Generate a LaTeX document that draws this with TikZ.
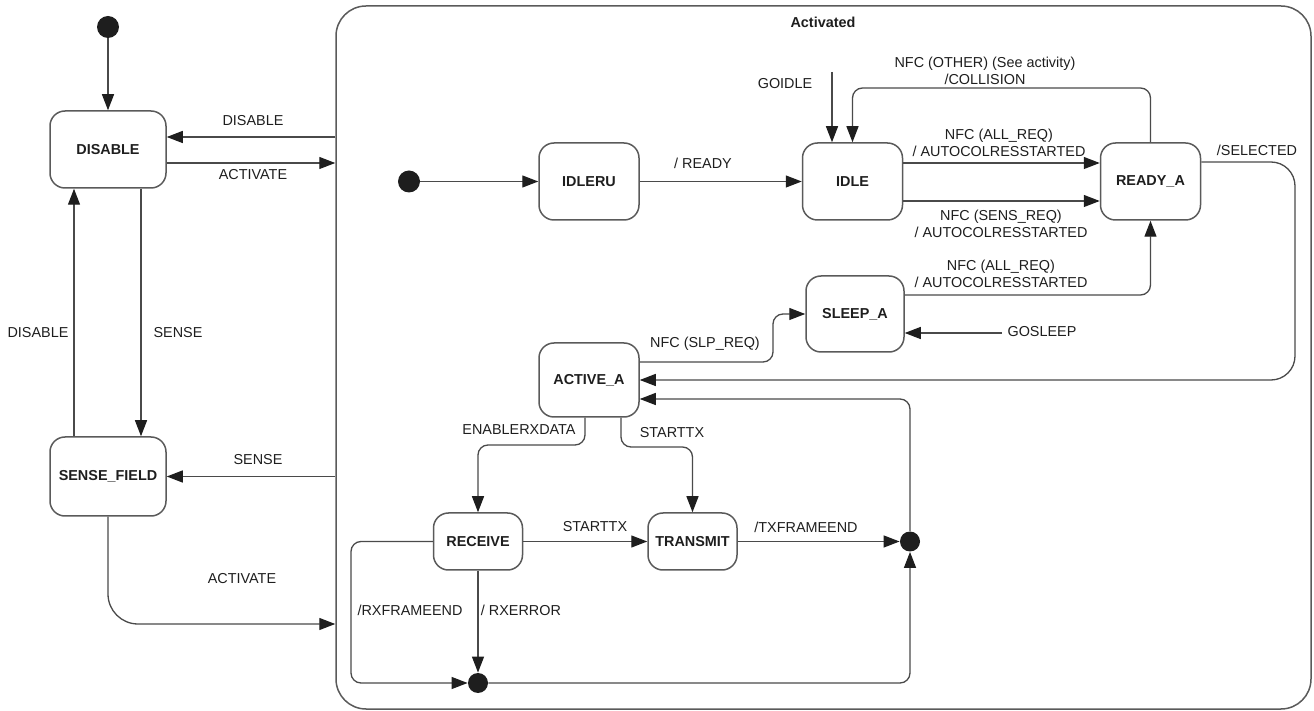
\documentclass[tikz,border=0pt]{standalone}
\usepackage{fontspec}
\setmainfont{Liberation Sans}
\usetikzlibrary{arrows.meta}
\definecolor{ln}{HTML}{4A4A4A}
\definecolor{bd}{HTML}{5A5A5A}
\definecolor{tx}{HTML}{1E1E1E}
\begin{document}
\begin{tikzpicture}[x=0.5pt,y=-0.5pt,>={Triangle[length=8pt,width=6pt,color=tx]},
   font=\fontsize{7.2}{8.6}\selectfont,text=tx,
   st/.style={draw=bd,line width=0.75pt,rounded corners=7.5pt,inner sep=0pt,
      minimum width=#1,minimum height=38.5pt,font=\fontsize{7.2}{8.6}\selectfont\bfseries},
   st/.default=50pt,
   ini/.style={circle,fill=tx,inner sep=0pt,minimum size=11pt},
   jn/.style={circle,fill=tx,inner sep=0pt,minimum size=10pt},
   tr/.style={draw=ln,line width=0.65pt,->,rounded corners=5pt},
   lab/.style={align=center,inner sep=0pt}]
   \useasboundingbox (0,0) rectangle (1314,711);

   % 状態
   \node[ini] (i0) at (108,27) {};
   \node[st=58pt] (dis) at (108,149.5) {DISABLE};
   \node[st=58pt,minimum height=39.5pt] (sf) at (108,476.5) {SENSE\_FIELD};
   \node[draw=bd,line width=0.75pt,rounded corners=15pt,inner sep=0pt,
      minimum width=487.5pt,minimum height=351.5pt] (act) at (823.5,357.5) {};
   \node[font=\fontsize{7.2}{8.6}\selectfont\bfseries] (actl) at (823,22) {Activated};

   \node[ini] (i1) at (409,181.5) {};
   \node[st] (idleru) at (589,181.5) {IDLERU};
   \node[st] (idle) at (852.5,181.5) {IDLE};
   \node[st] (ready) at (1150.5,181.5) {READY\_A};
   \node[st=49pt,minimum height=38pt] (sleep) at (855,314) {SLEEP\_A};
   \node[st,minimum height=37pt] (active) at (589,380) {ACTIVE\_A};
   \node[st=44.5pt,minimum height=28.5pt] (recv) at (478,541.5) {RECEIVE};
   \node[st=44.5pt,minimum height=28.5pt] (trans) at (692.5,541.5) {TRANSMIT};
   \node[jn] (j1) at (910,541.5) {};
   \node[jn] (j2) at (478,683) {};
   \coordinate (gi) at (832,72);
   \coordinate (gs) at (1002,333);

   % 外側の遷移
   \draw[tr] (i0) -- (dis);
   \draw[tr] (act.west |- 0,137) -- (dis.east |- 0,137);
   \draw[tr] (dis.east |- 0,163) -- (act.west |- 0,163);
   \draw[tr] (dis.south -| 141,0) -- (sf.north -| 141,0);
   \draw[tr] (sf.north -| 74,0) -- (dis.south -| 74,0);
   \draw[tr] (act.west |- sf.east) -- (sf.east);
   \draw[tr,rounded corners=15pt] (sf.south) |- (act.west |- 0,624);

   % Activated の中
   \draw[tr] (i1) -- (idleru);
   \draw[tr] (idleru) -- (idle);
   \draw[tr] (gi) -- (idle.north -| gi);
   \draw[tr] (ready.north) -- (ready.north |- 0,88) -| (idle.north);
   \draw[tr] (idle.east |- 0,163) -- (ready.west |- 0,163);
   \draw[tr] (idle.east |- 0,201) -- (ready.west |- 0,201);
   \draw[tr] (sleep.east |- 0,295) -| (ready.south);
   \draw[tr] (gs) -- (sleep.east |- gs);
   \draw[tr,rounded corners=12pt] (ready.east |- 0,162) -- (1295,162) -- (1295,380) -- (active.east);
   \draw[tr] (active.east |- 0,362) -- (773,362) -- (773,314) -- (sleep.west);
   \draw[tr] (j1.north) |- (active.east |- 0,399);
   \draw[tr] (active.south -| 585,0) -- (585,445) -| (recv.north);
   \draw[tr] (active.south -| 621,0) -- (621,447) -| (trans.north);
   \draw[tr] (recv) -- (trans);
   \draw[tr] (trans) -- (j1);
   \draw[tr] (recv) -- (j2);
   \draw[tr] (recv.west) -- (351,541.5) |- (j2.west);
   \draw[tr] (j2.east) -| (j1.south);

   % ラベル
   \node[lab] (l1) at (253,121) {DISABLE};
   \node[lab] (l2) at (253,175) {ACTIVATE};
   \node[lab] (l3) at (178,333) {SENSE};
   \node[lab] (l4) at (38,333) {DISABLE};
   \node[lab] (l5) at (258,460) {SENSE};
   \node[lab] (l6) at (242,579) {ACTIVATE};
   \node[lab] (l7) at (703,163) {/ READY};
   \node[lab] (l8) at (785,84) {GOIDLE};
   \node[lab] (l9) at (985,70.5) {NFC (OTHER) (See activity)\\/COLLISION};
   \node[lab] (l10) at (999,142.5) {NFC (ALL\_REQ)\\/ AUTOCOLRESSTARTED};
   \node[lab] (l11) at (1001,223.5) {NFC (SENS\_REQ)\\/ AUTOCOLRESSTARTED};
   \node[lab] (l12) at (1001,274) {NFC (ALL\_REQ)\\/ AUTOCOLRESSTARTED};
   \node[lab] (l13) at (1042,332) {GOSLEEP};
   \node[lab] (l14) at (1257,150) {/SELECTED};
   \node[lab] (l15) at (705,344) {NFC (SLP\_REQ)};
   \node[lab] (l16) at (519,430) {ENABLERXDATA};
   \node[lab] (l17) at (672,433) {STARTTX};
   \node[lab] (l18) at (595,527) {STARTTX};
   \node[lab] (l19) at (806,527) {/TXFRAMEEND};
   \node[lab] (l20) at (410,610) {/RXFRAMEEND};
   \node[lab] (l21) at (521,610) {/ RXERROR};
\end{tikzpicture}
\end{document}
